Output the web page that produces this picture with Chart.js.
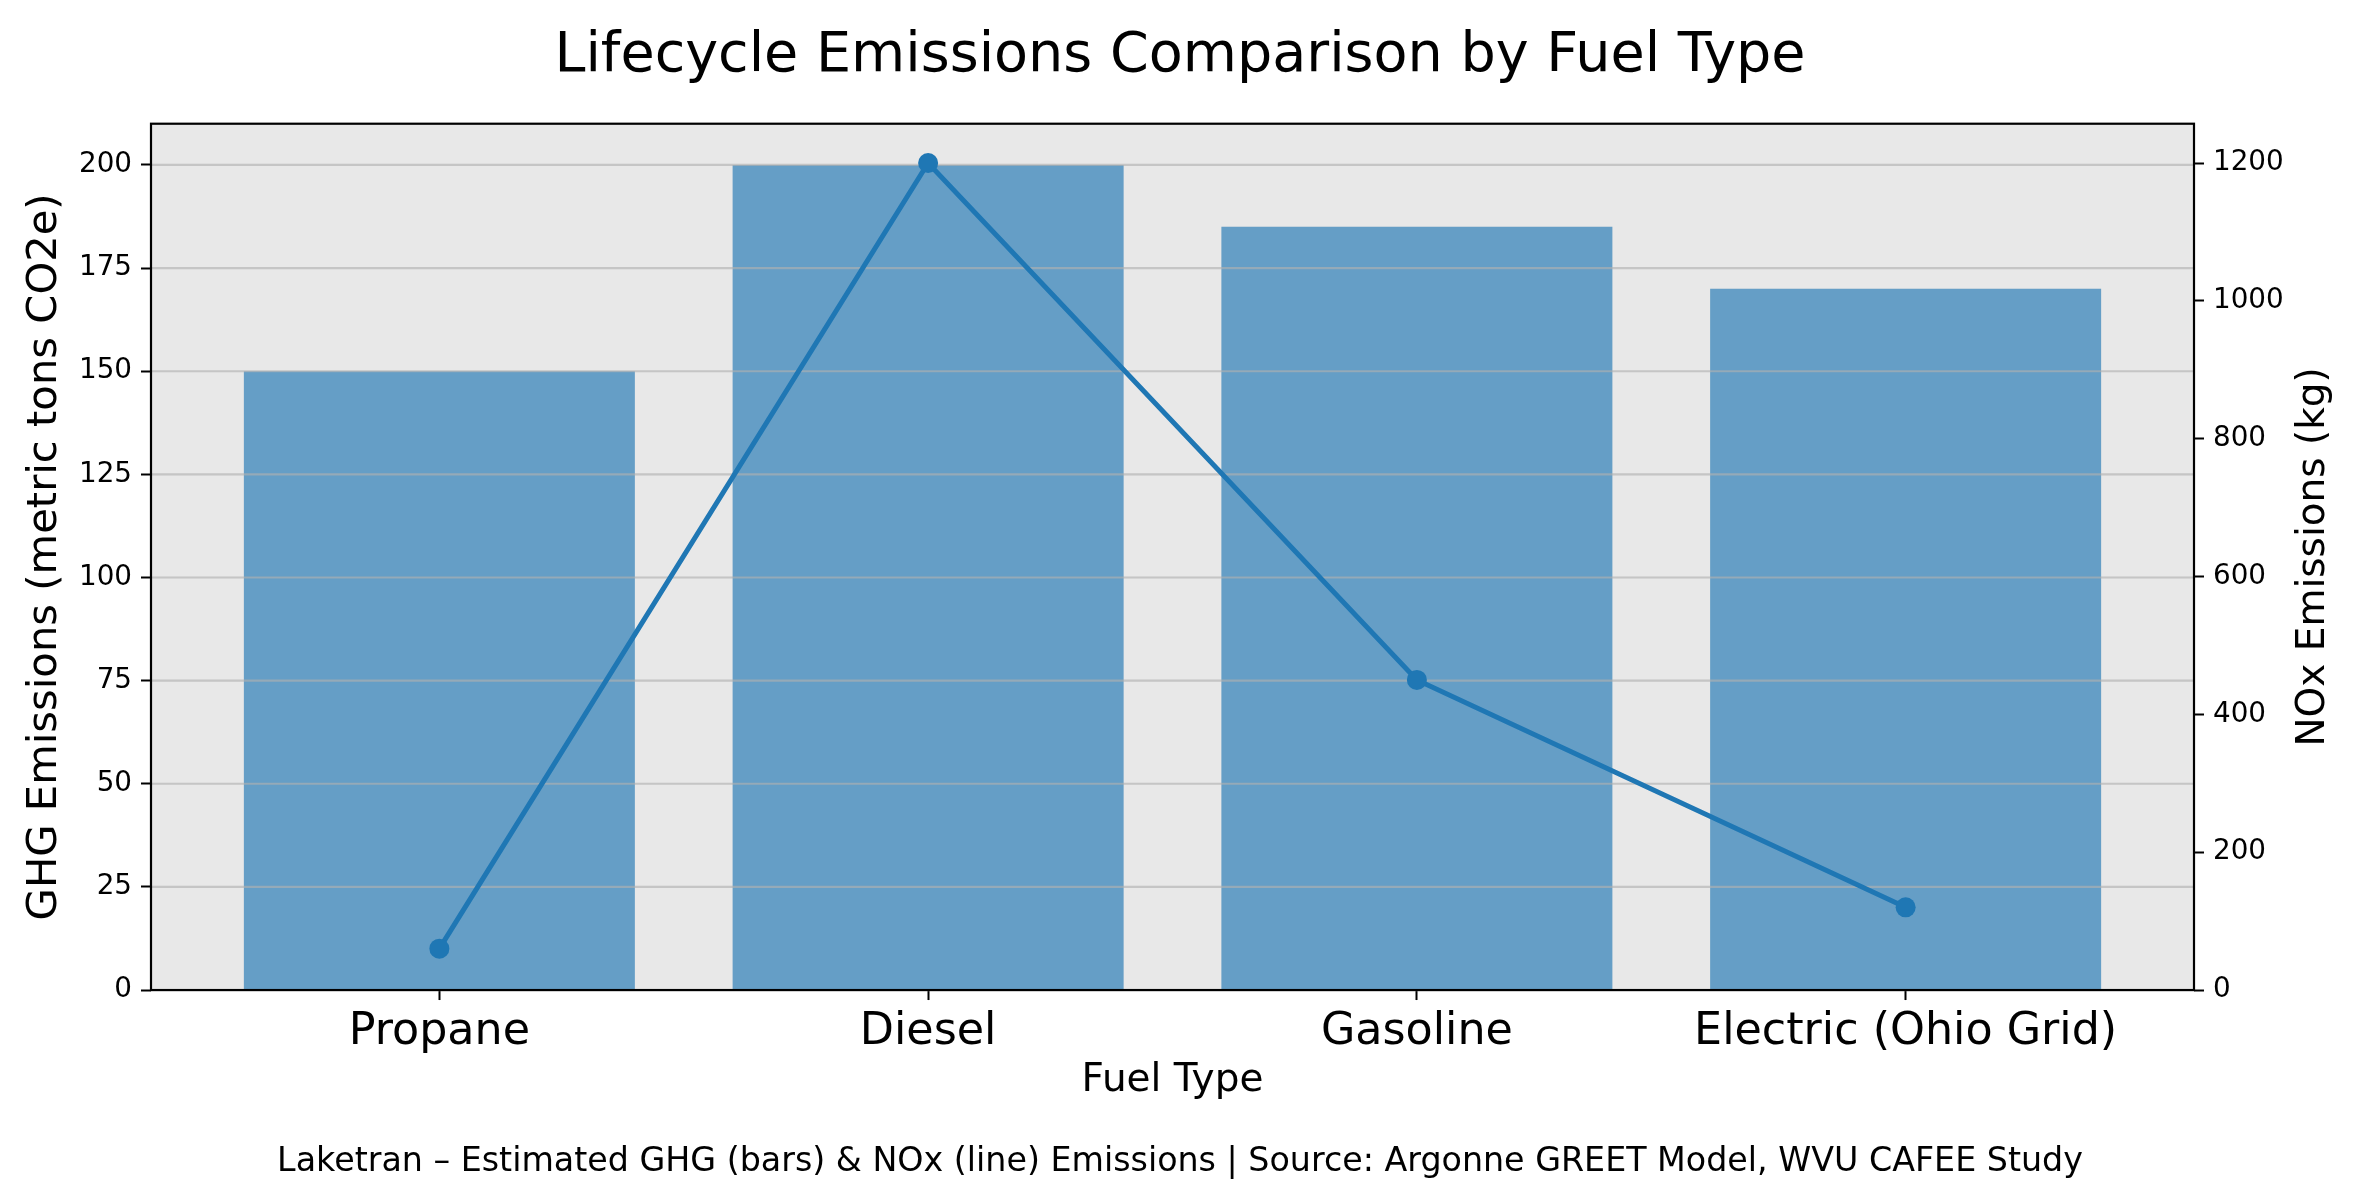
<!DOCTYPE html>
<html>
<head>
<meta charset="utf-8">
<script src="https://cdn.jsdelivr.net/npm/chart.js@4"></script>
<style>
  html, body { margin: 0; padding: 0; background: #fff; }
  #wrap { width: 2360px; height: 1200px; }
</style>
</head>
<body>
<div id="wrap"><canvas id="emissions-chart" width="2360" height="1200"></canvas></div>
<script>
const fuels = ['Propane', 'Diesel', 'Gasoline', 'Electric (Ohio Grid)'];
const ghgTons = [150, 200, 185, 170];
const noxKg = [60, 1200, 450, 120];
const ghgTicks = [0, 25, 50, 75, 100, 125, 150, 175, 200];
const noxTicks = [0, 200, 400, 600, 800, 1000, 1200];

const FONT = '"DejaVu Sans", sans-serif';

// grey plot background, grid above the bars but under the line, black frame
const frame = {
  id: 'frame',
  beforeDraw(chart) {
    const { ctx, chartArea: a } = chart;
    ctx.save();
    ctx.fillStyle = '#ffffff';
    ctx.fillRect(0, 0, chart.width, chart.height);
    ctx.fillStyle = '#e8e8e8';
    ctx.fillRect(a.left, a.top, a.right - a.left, a.bottom - a.top);
    ctx.restore();
  },
  afterDatasetDraw(chart, args) {
    if (args.meta.type !== 'bar') return;
    const { ctx, chartArea: a, scales } = chart;
    ctx.save();
    ctx.strokeStyle = 'rgba(176,176,176,0.64)';
    ctx.lineWidth = 2.2;
    ghgTicks.forEach(v => {
      const y = scales.y.getPixelForValue(v);
      ctx.beginPath();
      ctx.moveTo(a.left, y);
      ctx.lineTo(a.right, y);
      ctx.stroke();
    });
    ctx.restore();
  },
  afterDraw(chart) {
    const { ctx, chartArea: a } = chart;
    ctx.save();
    ctx.strokeStyle = '#000';
    ctx.lineWidth = 2.2;
    ctx.strokeRect(a.left, a.top, a.right - a.left, a.bottom - a.top);
    // right axis label reads bottom-to-top, as in the original
    ctx.translate(2314, (a.top + a.bottom) / 2);
    ctx.rotate(-Math.PI / 2);
    ctx.fillStyle = '#000';
    ctx.font = '39px ' + FONT;
    ctx.textAlign = 'center';
    ctx.textBaseline = 'middle';
    ctx.fillText('NOx Emissions (kg)', 0, 0);
    ctx.restore();
  }
};

const ctx = document.getElementById('emissions-chart').getContext('2d');

new Chart(ctx, {
  type: 'bar',
  data: {
    datasets: [
      {
        type: 'line',
        label: 'NOx',
        data: fuels.map((f, i) => ({ x: i, y: noxKg[i] })),
        yAxisID: 'y1',
        borderColor: '#1f77b4',
        backgroundColor: '#1f77b4',
        borderWidth: 5,
        pointRadius: 10,
        pointBorderWidth: 0,
        pointBackgroundColor: '#1f77b4',
        tension: 0,
        order: 1
      },
      {
        label: 'GHG',
        data: fuels.map((f, i) => ({ x: i, y: ghgTons[i] })),
        yAxisID: 'y',
        backgroundColor: 'rgba(31,119,180,0.65)',
        borderWidth: 0,
        barPercentage: 0.8,
        categoryPercentage: 1,
        order: 2
      }
    ]
  },
  options: {
    responsive: false,
    animation: false,
    devicePixelRatio: 1,
    layout: { padding: 0 },
    plugins: {
      legend: { display: false },
      tooltip: { enabled: false },
      title: {
        display: true,
        text: 'Lifecycle Emissions Comparison by Fuel Type',
        color: '#000',
        font: { family: FONT, size: 55.6, weight: 'normal' },
        padding: { top: 23, bottom: 34 }
      },
      subtitle: {
        display: true,
        position: 'bottom',
        text: 'Laketran \u2013 Estimated GHG (bars) & NOx (line) Emissions | Source: Argonne GREET Model, WVU CAFEE Study',
        color: '#000',
        font: { family: FONT, size: 33.3, weight: 'normal' },
        padding: { top: 12, bottom: 18 }
      }
    },
    scales: {
      x: {
        type: 'linear',
        min: -0.59,
        max: 3.59,
        offset: false,
        afterBuildTicks: s => { s.ticks = fuels.map((f, i) => ({ value: i })); },
        afterFit: s => { s.height = 140; },
        grid: { offset: false, drawOnChartArea: false, drawTicks: true, tickLength: 10, tickColor: '#000', tickWidth: 2 },
        border: { display: false },
        ticks: {
          color: '#000',
          font: { family: FONT, size: 44.4 },
          padding: 6,
          maxRotation: 0,
          autoSkip: false,
          callback: v => fuels[v]
        },
        title: {
          display: true,
          text: 'Fuel Type',
          color: '#000',
          font: { family: FONT, size: 39 },
          padding: { top: 0, bottom: 26 }
        }
      },
      y: {
        position: 'left',
        min: 0,
        max: 210,
        afterBuildTicks: s => { s.ticks = ghgTicks.map(v => ({ value: v })); },
        afterFit: s => { s.width = 151; },
        grid: { drawOnChartArea: false, drawTicks: true, tickLength: 10, tickColor: '#000', tickWidth: 2 },
        border: { display: false },
        ticks: {
          color: '#000',
          font: { family: FONT, size: 27.8 },
          padding: 9,
          callback: v => String(v)
        },
        title: {
          display: true,
          text: 'GHG Emissions (metric tons CO2e)',
          color: '#000',
          font: { family: FONT, size: 41.7 },
          padding: { top: 20, bottom: 0 }
        }
      },
      y1: {
        position: 'right',
        min: 0,
        max: 1257,
        afterBuildTicks: s => { s.ticks = noxTicks.map(v => ({ value: v })); },
        afterFit: s => { s.width = 166; },
        grid: { drawOnChartArea: false, drawTicks: true, tickLength: 10, tickColor: '#000', tickWidth: 2 },
        border: { display: false },
        ticks: {
          color: '#000',
          font: { family: FONT, size: 27.8 },
          padding: 9,
          callback: v => String(v)
        }
      }
    }
  },
  plugins: [frame]
});
</script>
</body>
</html>
